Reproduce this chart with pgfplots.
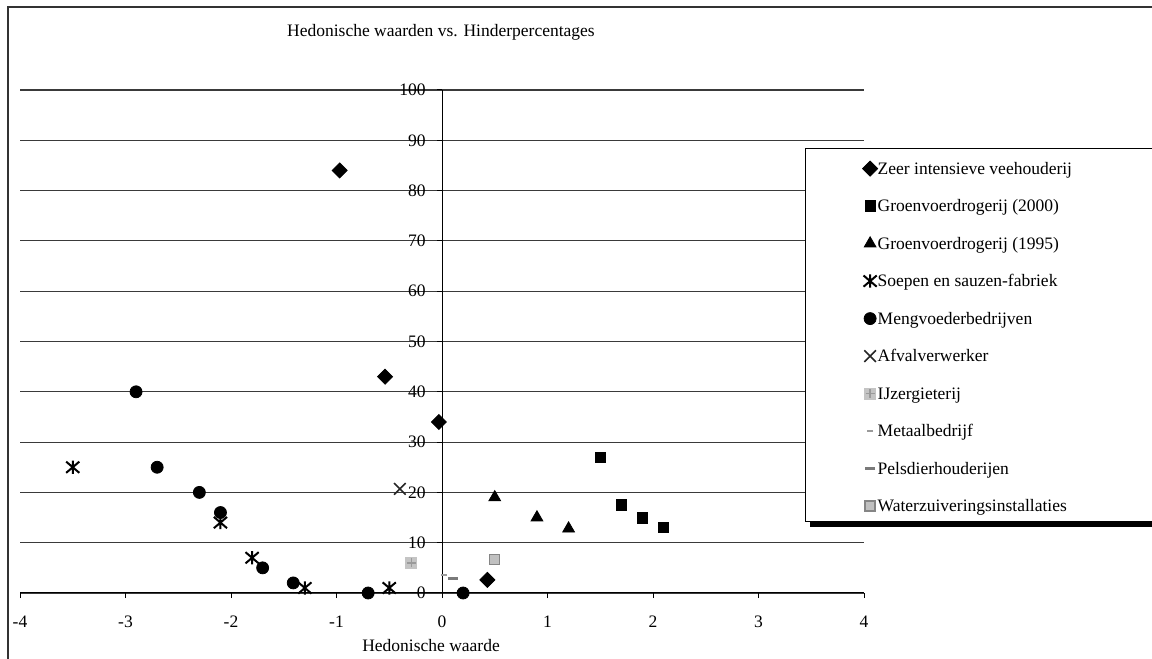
\documentclass[border=0pt]{standalone}
\usepackage{fontspec}
\setmainfont{Liberation Serif}
\usepackage{pgfplots}
\pgfplotsset{compat=1.18}

\definecolor{gridgray}{HTML}{3A3A3A}
\definecolor{framegray}{HTML}{333333}
\definecolor{sqfill}{HTML}{C4C4C4}
\definecolor{sqcross}{HTML}{9A9A9A}
\definecolor{dashlight}{HTML}{9A9A9A}
\definecolor{dashdark}{HTML}{7A7A7A}
\definecolor{waterfill}{HTML}{C0C0C0}
\definecolor{waterdraw}{HTML}{858585}

% x with a vertical stroke (six-armed star)
\pgfdeclareplotmark{xstar}{%
  \pgfpathmoveto{\pgfqpoint{-\pgfplotmarksize}{-0.85\pgfplotmarksize}}%
  \pgfpathlineto{\pgfqpoint{\pgfplotmarksize}{0.85\pgfplotmarksize}}%
  \pgfpathmoveto{\pgfqpoint{-\pgfplotmarksize}{0.85\pgfplotmarksize}}%
  \pgfpathlineto{\pgfqpoint{\pgfplotmarksize}{-0.85\pgfplotmarksize}}%
  \pgfpathmoveto{\pgfqpoint{0pt}{-\pgfplotmarksize}}%
  \pgfpathlineto{\pgfqpoint{0pt}{\pgfplotmarksize}}%
  \pgfusepathqstroke}

% light grey square carrying a darker plus
\pgfdeclareplotmark{sqplus}{%
  \pgfpathrectangle{\pgfqpoint{-\pgfplotmarksize}{-\pgfplotmarksize}}{\pgfqpoint{2\pgfplotmarksize}{2\pgfplotmarksize}}%
  \pgfsetfillcolor{sqfill}\pgfusepathqfill
  \pgfsetstrokecolor{sqcross}\pgfsetlinewidth{0.7pt}%
  \pgfpathmoveto{\pgfqpoint{-0.75\pgfplotmarksize}{0pt}}%
  \pgfpathlineto{\pgfqpoint{0.75\pgfplotmarksize}{0pt}}%
  \pgfpathmoveto{\pgfqpoint{0pt}{-0.75\pgfplotmarksize}}%
  \pgfpathlineto{\pgfqpoint{0pt}{0.75\pgfplotmarksize}}%
  \pgfusepathqstroke}

\begin{document}
\fontsize{8.75pt}{10.5pt}\selectfont
\begin{tikzpicture}[x=0.5pt,y=0.5pt]

% chart frame
\draw[line width=1pt, framegray] (8,-10) -- (8,652) -- (1170,652);

\begin{axis}[
  axis lines=middle,
  at={(10pt,33pt)}, anchor=south west,
  scale only axis, width=422pt, height=251.5pt,
  xmin=-4, xmax=4, ymin=0, ymax=100,
  clip=false,
  hide obscured x ticks=false, hide obscured y ticks=false,
  axis line style={-, black, line width=0.5pt},
  xtick={-4,-3,-2,-1,0,1,2,3,4},
  xticklabels={-4,-3,-2,-1,0,1,2,3,4},
  ytick={0,10,20,30,40,50,60,70,80,90,100},
  yticklabels={0,10,20,30,40,50,60,70,80,90,100},
  tick align=outside, major tick length=2.5pt,
  tick style={black, line width=0.5pt},
  ymajorgrids, major grid style={gridgray, line width=0.55pt},
  xticklabel style={anchor=base, inner sep=0pt, yshift=-14.5pt},
  yticklabel style={anchor=east, inner sep=0pt, xshift=-5.5pt},
  title={Hedonische waarden vs. Hinderpercentages},
  title style={at={(axis description cs:0.4988,1)}, anchor=base, yshift=20.5pt, inner sep=0pt},
  xlabel={Hedonische waarde},
  xlabel style={at={(axis description cs:0.487,0)}, anchor=base, yshift=-29.5pt, inner sep=0pt},
  legend image code/.code={%
    \path[draw=none, fill=none] (-4pt,-2pt) (3.8pt,6.8pt);
    \draw[#1] plot coordinates {(0pt,2.9pt)};},
  legend style={draw=none, fill=none, at={(0.9313,0.8827)}, anchor=north west,
    xshift=27.85pt, yshift=-5.7pt, inner sep=0pt, row sep=9.95pt, column sep=0pt,
    cells={anchor=base west},
    nodes={inner sep=0pt, text height=6.8pt, text depth=2pt}},
]

\addplot[/tikz/only marks, mark=square*, mark size=2.65pt,
  mark options={rotate=45, fill=black, draw=black}]
  coordinates {(-0.97,84) (-0.54,43) (-0.03,34) (0.43,2.6)};
\addlegendentry{Zeer intensieve veehouderij}

\addplot[/tikz/only marks, mark=square*, mark size=2.6pt,
  mark options={fill=black, draw=black}]
  coordinates {(1.5,27) (1.7,17.5) (1.9,14.9) (2.1,13)};
\addlegendentry{Groenvoerdrogerij (2000)}

\addplot[/tikz/only marks, mark=triangle*, mark size=3.4pt,
  mark options={fill=black, draw=black}]
  coordinates {(0.5,19) (0.9,15) (1.2,12.8)};
\addlegendentry{Groenvoerdrogerij (1995)}

\addplot[/tikz/only marks, mark=xstar, mark size=3.3pt,
  mark options={draw=black, line width=1pt}]
  coordinates {(-3.5,25) (-2.1,14) (-1.8,7) (-1.3,1) (-0.5,1)};
\addlegendentry{Soepen en sauzen-fabriek}

\addplot[/tikz/only marks, mark=*, mark size=3pt,
  mark options={fill=black, draw=black}]
  coordinates {(-2.9,40) (-2.7,25) (-2.3,20) (-2.1,16) (-1.7,5) (-1.41,2) (-0.7,0) (0.2,0)};
\addlegendentry{Mengvoederbedrijven}

\addplot[/tikz/only marks, mark=x, mark size=4.1pt,
  mark options={draw=black!85, line width=0.8pt}]
  coordinates {(-0.4,20.7)};
\addlegendentry{Afvalverwerker}

\addplot[/tikz/only marks, mark=sqplus, mark size=3pt]
  coordinates {(-0.29,6)};
\addlegendentry{IJzergieterij}

\addplot[/tikz/only marks, mark=-, mark size=1.5pt,
  mark options={draw=dashlight, line width=1.1pt}]
  coordinates {(0.02,3.6)};
\addlegendentry{Metaalbedrijf}

\addplot[/tikz/only marks, mark=-, mark size=2.5pt,
  mark options={draw=dashdark, line width=1.4pt}]
  coordinates {(0.10,2.85)};
\addlegendentry{Pelsdierhouderijen}

\addplot[/tikz/only marks, mark=square*, mark size=2.5pt,
  mark options={fill=waterfill, draw=waterdraw, line width=0.7pt}]
  coordinates {(0.5,6.7)};
\addlegendentry{Waterzuiveringsinstallaties}

% legend panel with its drop shadow
\fill[black] (axis cs:3.488,13.12) rectangle (axis cs:7.3,14.3);
\filldraw[fill=white, draw=black, line width=0.5pt]
  (axis cs:3.450,14.12) rectangle (axis cs:7.3,88.27);
\end{axis}

\pgfresetboundingbox
\path[use as bounding box] (0,0) rectangle (1152,659);
\end{tikzpicture}
\end{document}
